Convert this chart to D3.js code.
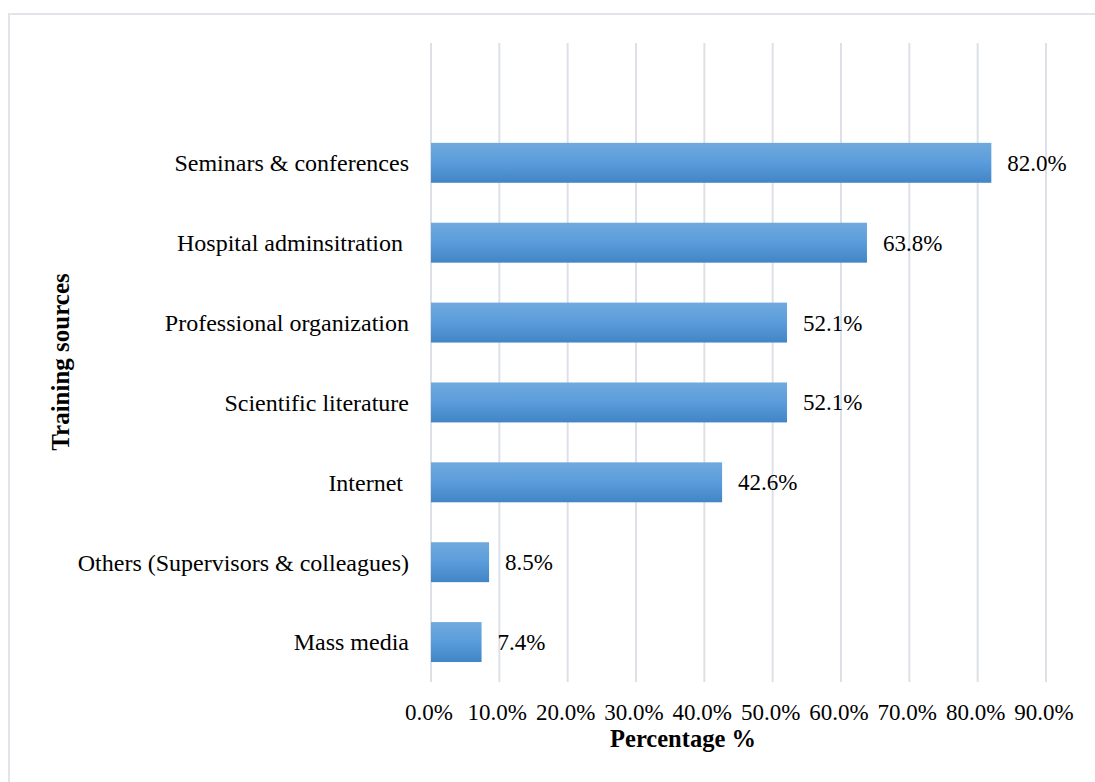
<!DOCTYPE html>
<html>
<head>
<meta charset="utf-8">
<script src="https://cdn.jsdelivr.net/npm/d3@7/dist/d3.min.js"></script>
<style>
  html, body { margin: 0; padding: 0; background: #fff; }
  svg text { font-family: "Liberation Serif", "Times New Roman", serif; fill: #000; white-space: pre; }
</style>
</head>
<body>
<svg id="chart" width="1095" height="782"></svg>
<script>
// Training sources and the share of respondents citing each one
const categories = [
  "Seminars & conferences",
  "Hospital adminsitration ",
  "Professional organization",
  "Scientific literature",
  "Internet ",
  "Others (Supervisors & colleagues)",
  "Mass media"
];
const values = [82.0, 63.8, 52.1, 52.1, 42.6, 8.5, 7.4];
const valueLabels = ["82.0%", "63.8%", "52.1%", "52.1%", "42.6%", "8.5%", "7.4%"];
const ticks = [0, 10, 20, 30, 40, 50, 60, 70, 80, 90];
const tickLabels = ["0.0%", "10.0%", "20.0%", "30.0%", "40.0%", "50.0%", "60.0%", "70.0%", "80.0%", "90.0%"];
const xTitle = "Percentage %";
const yTitle = "Training sources";

const svg = d3.select("#chart");

// outer frame
svg.append("rect")
  .attr("x", 9).attr("y", 14)
  .attr("width", 1200).attr("height", 900)
  .attr("fill", "none").attr("stroke", "#e1e4e9").attr("stroke-width", 2);

const plot = { left: 431, right: 1046, top: 43, bottom: 682 };

const x = d3.scaleLinear().domain([0, 90]).range([plot.left, plot.right]);
// one empty slot above the first category
const slots = [""].concat(categories);
const y = d3.scaleBand().domain(slots).range([plot.top, plot.bottom]).paddingInner(0.5).paddingOuter(0.25);

// bar gradient
const defs = svg.append("defs");
const grad = defs.append("linearGradient").attr("id", "barGrad")
  .attr("x1", 0).attr("y1", 0).attr("x2", 0).attr("y2", 1);
grad.append("stop").attr("offset", "0%").attr("stop-color", "#71a9dd");
grad.append("stop").attr("offset", "50%").attr("stop-color", "#5a9cdb");
grad.append("stop").attr("offset", "100%").attr("stop-color", "#4185c6");

// vertical gridlines
svg.append("g").selectAll("line")
  .data(ticks)
  .join("line")
  .attr("x1", d => x(d)).attr("x2", d => x(d))
  .attr("y1", plot.top).attr("y2", plot.bottom)
  .attr("stroke", "#dde1e7").attr("stroke-width", 2);

// bars
svg.append("g").selectAll("rect")
  .data(values)
  .join("rect")
  .attr("x", x(0))
  .attr("y", (d, i) => y(categories[i]))
  .attr("width", d => x(d) - x(0))
  .attr("height", y.bandwidth())
  .attr("fill", "url(#barGrad)");

// value labels
svg.append("g").selectAll("text")
  .data(values)
  .join("text")
  .attr("x", d => x(d) + 16)
  .attr("y", (d, i) => y(categories[i]) + y.bandwidth() / 2)
  .attr("dy", "0.35em")
  .attr("font-size", 23)
  .text((d, i) => valueLabels[i]);

// category labels
svg.append("g").selectAll("text")
  .data(categories)
  .join("text")
  .attr("x", plot.left - 22)
  .attr("y", d => y(d) + y.bandwidth() / 2)
  .attr("dy", "0.35em")
  .attr("text-anchor", "end")
  .attr("font-size", 24)
  .text(d => d);

// x tick labels
svg.append("g").selectAll("text")
  .data(ticks)
  .join("text")
  .attr("x", d => x(d) - 2)
  .attr("y", 712)
  .attr("dy", "0.35em")
  .attr("text-anchor", "middle")
  .attr("font-size", 23)
  .text((d, i) => tickLabels[i]);

// axis titles
svg.append("text")
  .attr("x", 683).attr("y", 738)
  .attr("dy", "0.35em")
  .attr("text-anchor", "middle")
  .attr("font-size", 24.5)
  .attr("font-weight", "bold")
  .text(xTitle);

svg.append("text")
  .attr("transform", "translate(60,362) rotate(-90)")
  .attr("dy", "0.35em")
  .attr("text-anchor", "middle")
  .attr("font-size", 25)
  .attr("font-weight", "bold")
  .text(yTitle);
</script>
</body>
</html>
